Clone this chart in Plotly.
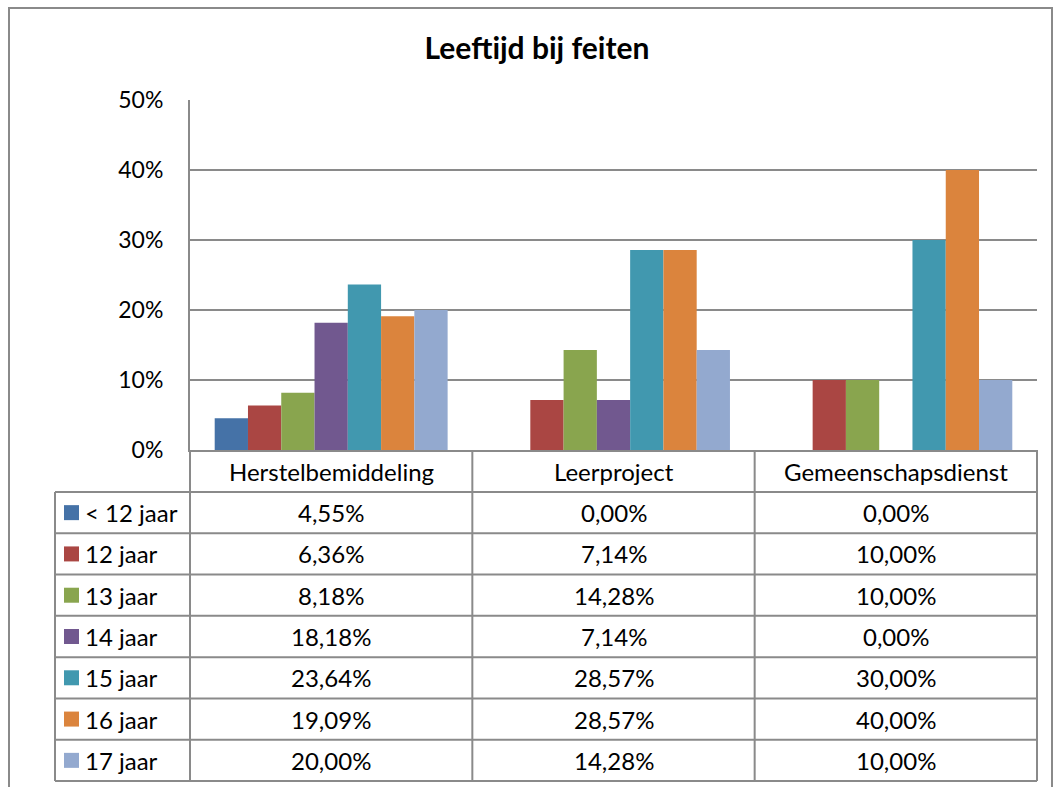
import plotly.graph_objects as go

categories = ["Herstelbemiddeling", "Leerproject", "Gemeenschapsdienst"]
series_names = ["< 12 jaar", "12 jaar", "13 jaar", "14 jaar", "15 jaar", "16 jaar", "17 jaar"]
v_lt12 = [4.55, 0.00, 0.00]
v_12 = [6.36, 7.14, 10.00]
v_13 = [8.18, 14.28, 10.00]
v_14 = [18.18, 7.14, 0.00]
v_15 = [23.64, 28.57, 30.00]
v_16 = [19.09, 28.57, 40.00]
v_17 = [20.00, 14.28, 10.00]
series_values = [v_lt12, v_12, v_13, v_14, v_15, v_16, v_17]
colors = ["#4572A7", "#AA4643", "#89A54E", "#71588F", "#4198AF", "#DB843D", "#93A9CF"]
title_text = "Leeftijd bij feiten"

W, H = 1053, 787
FONT = "Lato, 'Open Sans', sans-serif"
LINE = "#8a8a8a"
FS = 24


def px(x):
    return x / W


def py(y):
    return 1 - y / H


# layout geometry (pixels)
plot_l, plot_r, plot_t, plot_b = 190, 1037, 100, 450
table_l = 55
header_b = 492
row_h = (781 - header_b) / len(series_names)

fig = go.Figure()
for name, vals, col in zip(series_names, series_values, colors):
    fig.add_trace(go.Bar(
        x=categories, y=[v / 100 for v in vals], name=name,
        marker=dict(color=col, line=dict(width=0)),
        showlegend=False, hoverinfo="skip",
    ))

shapes = []
annotations = []

# outer chart border
shapes.append(dict(type="rect", xref="paper", yref="paper",
                   x0=px(9), x1=px(1052), y0=py(800), y1=py(8),
                   line=dict(color=LINE, width=2), fillcolor="rgba(0,0,0,0)", layer="below"))

# table lines
col_x = [plot_l + (plot_r - plot_l) * k / 3 for k in range(4)]
for cx in col_x:
    shapes.append(dict(type="line", xref="paper", yref="paper",
                       x0=px(cx), x1=px(cx), y0=py(plot_b), y1=py(781),
                       line=dict(color=LINE, width=2)))
shapes.append(dict(type="line", xref="paper", yref="paper",
                   x0=px(table_l), x1=px(table_l), y0=py(header_b), y1=py(781),
                   line=dict(color=LINE, width=2)))
for i in range(len(series_names) + 1):
    yy = header_b + row_h * i
    shapes.append(dict(type="line", xref="paper", yref="paper",
                       x0=px(table_l), x1=px(plot_r), y0=py(yy), y1=py(yy),
                       line=dict(color=LINE, width=2)))

# header texts
for c in categories:
    annotations.append(dict(x=c, xref="x", y=py((plot_b + header_b) / 2), yref="paper",
                            text=c, showarrow=False, xanchor="center", yanchor="middle",
                            font=dict(family=FONT, size=FS, color="black")))

# rows
for i, (name, vals, col) in enumerate(zip(series_names, series_values, colors)):
    yc = header_b + row_h * (i + 0.5)
    shapes.append(dict(type="rect", xref="paper", yref="paper",
                       x0=px(64), x1=px(79), y0=py(yc + 7.5), y1=py(yc - 7.5),
                       fillcolor=col, line=dict(width=0)))
    annotations.append(dict(x=px(83), xref="paper", y=py(yc), yref="paper",
                            text=name, showarrow=False, xanchor="left", yanchor="middle",
                            font=dict(family=FONT, size=FS, color="black")))
    for c, v in zip(categories, vals):
        annotations.append(dict(x=c, xref="x", y=py(yc), yref="paper",
                                text=f"{v:.2f}".replace(".", ",") + "%", showarrow=False,
                                xanchor="center", yanchor="middle",
                                font=dict(family=FONT, size=FS, color="black")))

fig.update_layout(
    width=W, height=H,
    margin=dict(l=0, r=0, t=0, b=0, autoexpand=False),
    paper_bgcolor="white", plot_bgcolor="white",
    barmode="group", bargap=0.175, bargroupgap=0,
    title=dict(text="<b>" + title_text + "</b>", x=px(537), xanchor="center",
               y=py(48), yanchor="middle",
               font=dict(family=FONT, size=30, color="black")),
    xaxis=dict(domain=[px(plot_l), px(plot_r)], showticklabels=False, showgrid=False,
               showline=True, linecolor=LINE, linewidth=2, ticks="", zeroline=False,
               automargin=False),
    yaxis=dict(domain=[py(plot_b), py(plot_t)], range=[0, 0.5], dtick=0.1, tick0=0,
               tickformat=".0%", showgrid=True, gridcolor=LINE, gridwidth=2,
               showline=True, linecolor=LINE, linewidth=2, ticks="", zeroline=False,
               ticklabelstandoff=20, automargin=False,
               tickfont=dict(family=FONT, size=23, color="black")),
    shapes=shapes, annotations=annotations,
    font=dict(family=FONT),
)

fig.write_html("out.html", config={"displayModeBar": False},
               post_script="document.body.style.margin='0';")
